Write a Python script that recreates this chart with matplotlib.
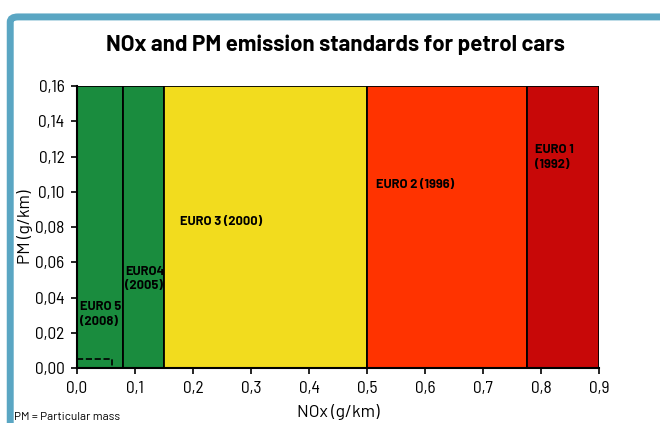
import numpy as np
import matplotlib.pyplot as plt
from matplotlib.patches import Rectangle, FancyBboxPatch

plt.rcParams['font.family'] = ['Barlow', 'DejaVu Sans']
tick_font = ['Barlow Semi Condensed', 'DejaVu Sans']

# emission standards: NOx limit (g/km) boundaries, PM limit
names = ["EURO 5\n(2008)", "EURO4\n(2005)", "EURO 3 (2000)", "EURO 2 (1996)", "EURO 1\n(1992)"]
x_start = [0.0, 0.08, 0.15, 0.5, 0.775]
x_end = [0.08, 0.15, 0.5, 0.775, 0.9]
pm_top = [0.16, 0.16, 0.16, 0.16, 0.16]
colors = ["#1a8c3e", "#1a8c3e", "#f2dc1e", "#ff3300", "#c80808"]
label_x = [0.006, 0.083, 0.178, 0.515, 0.79]
label_y = [0.038, 0.058, 0.086, 0.107, 0.127]
euro5_nox, euro5_pm = 0.06, 0.005

fig = plt.figure(figsize=(6.6, 4.23), dpi=100)

# blue frame
frame = FancyBboxPatch((0.0155, -0.1), 1.2, 0.96 + 0.1, boxstyle="round,pad=0,rounding_size=0.012",
                       transform=fig.transFigure, facecolor="white", edgecolor="#5aa6c3",
                       linewidth=5, zorder=0)
fig.patches.append(frame)

ax = fig.add_axes([77/660, 1 - 368/423, 522/660, 282/423])
ax.set_zorder(2)
ax.set_facecolor("none")
for i in range(len(names)):
    ax.add_patch(Rectangle((x_start[i], 0), x_end[i] - x_start[i], pm_top[i],
                           facecolor=colors[i], edgecolor="black", linewidth=1.3))
    ax.text(label_x[i], label_y[i], names[i], fontsize=9.3, fontweight="bold",
            va="top", ha="left", linespacing=1.4)
ax.plot([0, euro5_nox, euro5_nox], [euro5_pm, euro5_pm, 0], "k--", linewidth=1.2)

ax.set_xlim(0, 0.9)
ax.set_ylim(0, 0.16)
ax.set_xticks(np.arange(0, 0.91, 0.1))
ax.set_yticks(np.arange(0, 0.161, 0.02))
ax.set_xticklabels([f"{v:.1f}".replace(".", ",") for v in np.arange(0, 0.91, 0.1)], family=tick_font)
ax.set_yticklabels([f"{v:.2f}".replace(".", ",") for v in np.arange(0, 0.161, 0.02)], family=tick_font)
ax.tick_params(labelsize=12.5, length=4, width=1.2, pad=5)
ax.spines["top"].set_visible(False)
ax.spines["right"].set_visible(False)
ax.spines["left"].set_linewidth(1.5)
ax.spines["bottom"].set_linewidth(1.5)
ax.set_xlabel("NOx (g/km)", fontsize=12.5, labelpad=6)
ax.set_ylabel("PM (g/km)", fontsize=12.5, labelpad=1)

fig.text(0.508, 1 - 45/423, "NOx and PM emission standards for petrol cars",
         ha="center", va="center", fontsize=16, fontweight="bold")
fig.text(14/660, 1 - 417/423, "PM = Particular mass", fontsize=8.5, va="center", ha="left")

fig.savefig("out.png", dpi=100)
